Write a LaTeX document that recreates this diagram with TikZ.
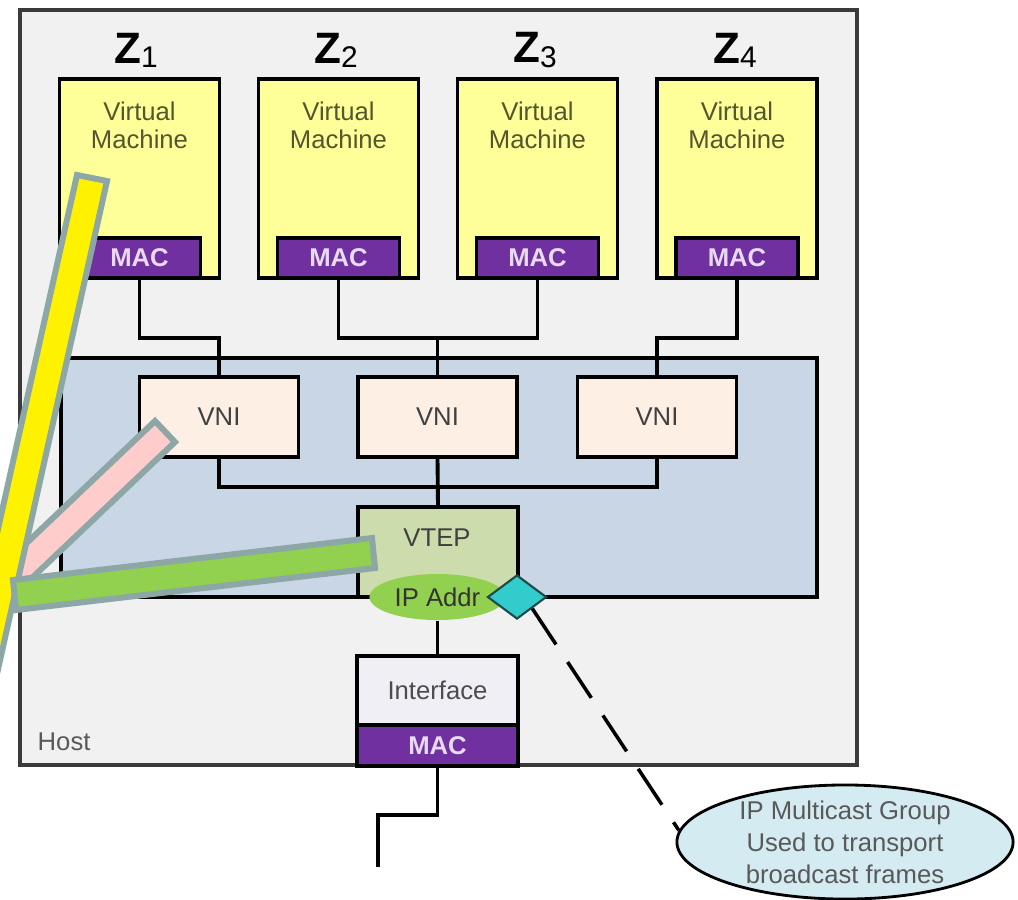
\documentclass[tikz,border=0pt]{standalone}
\usepackage{fontspec}
\setmainfont{Liberation Sans}
\usetikzlibrary{positioning,shapes.geometric}

\definecolor{hostfill}{HTML}{F1F1F1}
\definecolor{hostedge}{HTML}{3A3A3A}
\definecolor{vmyellow}{HTML}{FFFF99}
\definecolor{vmink}{HTML}{55552F}
\definecolor{macpurple}{HTML}{7030A0}
\definecolor{macink}{HTML}{E8DAF2}
\definecolor{layerblue}{HTML}{C9D6E6}
\definecolor{vnipeach}{HTML}{FDEFE4}
\definecolor{vtepgreen}{HTML}{CDDCAC}
\definecolor{ipgreen}{HTML}{92D050}
\definecolor{diacyan}{HTML}{33CCCC}
\definecolor{diaedge}{HTML}{1F4A4A}
\definecolor{intfgray}{HTML}{F1EFF6}
\definecolor{grpblue}{HTML}{D4EBF1}
\definecolor{barline}{HTML}{8DA6A6}
\definecolor{barpink}{HTML}{FFCCCC}
\definecolor{bargreen}{HTML}{92D050}

\newcommand{\zname}[1]{{\fontsize{12.5}{14}\selectfont\bfseries Z}\raisebox{-1.2pt}{\fontsize{8.5}{9}\selectfont #1}}

\begin{document}
\begin{tikzpicture}[x=0.01cm, y=-0.01cm,
    every node/.style={font=\fontsize{7.3}{8}\selectfont},
    box/.style={draw, line width=1pt, inner sep=0pt, outer sep=0pt},
    hostbox/.style={draw=hostedge, fill=hostfill, line width=1.2pt, minimum width=8.37cm, minimum height=7.55cm},
    layer/.style={box, fill=layerblue, minimum width=7.56cm, minimum height=2.39cm},
    vm/.style={box, fill=vmyellow, minimum width=1.6cm, minimum height=1.99cm},
    vmtext/.style={align=center, text=vmink, inner sep=0pt},
    mac/.style={box, fill=macpurple, text=macink, font=\fontsize{7.3}{8}\selectfont\bfseries, minimum width=1.22cm, minimum height=0.4cm},
    vni/.style={box, fill=vnipeach, text=black!75, minimum width=1.59cm, minimum height=0.8cm},
    vtep/.style={box, fill=vtepgreen, minimum width=1.6cm, minimum height=0.9cm},
    ipaddr/.style={ellipse, fill=ipgreen, text=black!80, inner sep=0pt, minimum width=1.36cm, minimum height=0.46cm},
    mcast/.style={diamond, draw=diaedge, fill=diacyan, line width=0.6pt, inner sep=0pt, minimum width=0.59cm, minimum height=0.44cm},
    intf/.style={box, fill=intfgray, text=black!70, minimum width=1.61cm, minimum height=0.69cm},
    grp/.style={ellipse, draw, fill=grpblue, line width=0.8pt, inner sep=0pt, minimum width=3.36cm, minimum height=1.14cm},
    grptext/.style={align=center, text=black!65, font=\fontsize{7.3}{9.1}\selectfont},
    wire/.style={line width=1.1pt},
    dashline/.style={line width=1pt, dash pattern=on 0.43cm off 0.21cm},
    bar/.style={draw=barline, line width=1.7pt, line join=miter}]

    \useasboundingbox (0,0) rectangle (1018,899);

    % host and hypervisor layer
    \node[hostbox] (host) at (438.5,387.5) {};
    \node[anchor=west, inner sep=0pt, text=black!65] (hl) at (37,742) {Host};
    \node[layer] (hv) at (439,477.5) {};

    % zones
    \node (z1) at (136,50) {\zname{1}};
    \node (z2) at (336,50) {\zname{2}};
    \node (z3) at (535,50) {\zname{3}};
    \node (z4) at (735,50) {\zname{4}};

    % virtual machines
    \node[vm] (vm1) at (139.5,178.5) {};
    \node[vm] (vm2) at (338.5,178.5) {};
    \node[vm] (vm3) at (537.5,178.5) {};
    \node[vm] (vm4) at (737,178.5) {};
    \node[vmtext] (t1) at (139.5,125) {Virtual\\Machine};
    \node[vmtext] (t2) at (338.5,125) {Virtual\\Machine};
    \node[vmtext] (t3) at (537.5,125) {Virtual\\Machine};
    \node[vmtext] (t4) at (737,125) {Virtual\\Machine};
    \node[mac, anchor=south] (m1) at (vm1.south) {MAC};
    \node[mac, anchor=south] (m2) at (vm2.south) {MAC};
    \node[mac, anchor=south] (m3) at (vm3.south) {MAC};
    \node[mac, anchor=south] (m4) at (vm4.south) {MAC};

    % VNIs and VTEP
    \node[vni] (v1) at (219,417) {VNI};
    \node[vni] (v2) at (437.5,417) {VNI};
    \node[vni] (v3) at (657,417) {VNI};
    \node[vtep] (vtep) at (438,552) {};
    \node[inner sep=0pt, text=black!75] (vt) at (437,538) {VTEP};

    \draw[wire] (m1.south) -- ++(0,60) -| (v1.north);
    \draw[wire] (m2.south) -- ++(0,60) -| (v2.north);
    \draw[wire] (m3.south) -- ++(0,60) -| (v2.north);
    \draw[wire] (m4.south) -- ++(0,60) -| (v3.north);
    \draw[wire] (v1.south) -- ++(0,30) -| (vtep.north);
    \draw[wire] (v3.south) -- ++(0,30) -| (vtep.north);
    \draw[wire] (v2.south) -- (vtep.north);

    \node[ipaddr] (ip) at (437.5,597) {IP Addr};
    \node[mcast] (dia) at (517,597) {};

    % physical interface
    \node[intf] (intf) at (437.5,690.5) {Interface};
    \node[mac, minimum width=1.61cm, minimum height=0.41cm, below=0pt of intf] (mi) {MAC};
    \coordinate (cable) at (378,867);
    \draw[wire] (ip.south) -- (intf.north);
    \draw[wire] (mi.south) -- ++(0,49) -| (cable);

    % multicast group
    \node[grp, label={[grptext]center:{IP Multicast Group\\Used to transport\\broadcast frames}}] (mc) at (845,842) {};
    \draw[dashline] (dia.south east) -- (mc.176);

    % highlight bars
    \filldraw[bar, fill=barpink] (155,421) -- (175,442) -- (-6,614) -- (-26,593) -- cycle;
    \filldraw[bar, fill=yellow] (77,175) -- (107,181) -- (-24,768) -- (-54,762) -- cycle;
    \filldraw[bar, fill=bargreen] (372,538) -- (375,568) -- (16,610) -- (13,580) -- cycle;
\end{tikzpicture}
\end{document}
